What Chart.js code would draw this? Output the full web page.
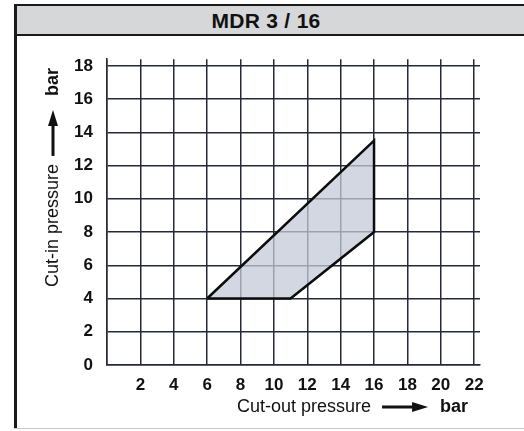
<!DOCTYPE html>
<html>
<head>
<meta charset="utf-8">
<script src="https://cdn.jsdelivr.net/npm/chart.js@4/dist/chart.umd.min.js"></script>
<style>
  html, body { margin: 0; padding: 0; background: #fff; }
  body { width: 524px; height: 431px; position: relative; overflow: hidden; font-family: "Liberation Sans", Arial, sans-serif; }
  #frameLeft { position: absolute; left: 14px; top: 4px; width: 3px; height: 424px; background: #1a1a1a; }
  #frameBottom { position: absolute; left: 14px; top: 428px; width: 510px; height: 1px; background: #c8c8c8; }
  #band { position: absolute; left: 14px; top: 4px; width: 510px; height: 28px; background: #d6d7d9;
          border-top: 2px solid #1a1a1a; border-bottom: 2px solid #1a1a1a; }
  #title { position: absolute; left: 0; width: 532px; top: 9px; text-align: center; font-weight: bold; font-size: 21px;
           line-height: 24px; color: #111; letter-spacing: 0.3px; }
  #chart { position: absolute; left: 17px; top: 35px; }
</style>
</head>
<body>
<div id="band"></div>
<div id="frameLeft"></div>
<div id="frameBottom"></div>
<div id="title">MDR 3 / 16</div>
<canvas id="chart" width="507" height="393"></canvas>
<script>
// axis ticks (bar)
const xTickValues = [0, 2, 4, 6, 8, 10, 12, 14, 16, 18, 20, 22];
const yTickValues = [0, 2, 4, 6, 8, 10, 12, 14, 16, 18];

// operating range polygon: cut-out (x) vs cut-in (y), closed
const regionCutOut = [6, 11, 16, 16, 6];
const regionCutIn = [4, 4, 8, 13.5, 4];

const xTitle = 'Cut-out pressure';
const yTitle = 'Cut-in pressure';
const unitLabel = 'bar';

const gridColor = '#262a38';
const labelFont = { family: '"Liberation Sans", Arial, sans-serif', size: 17, weight: 'bold' };

// draws "text ---> bar" style axis titles with a filled arrow
function drawArrow(ctx, x0, x1, y) {
    ctx.beginPath();
    ctx.moveTo(x0, y);
    ctx.lineTo(x1 - 12, y);
    ctx.lineWidth = 3;
    ctx.stroke();
    ctx.beginPath();
    ctx.moveTo(x1, y);
    ctx.lineTo(x1 - 16, y - 5);
    ctx.lineTo(x1 - 16, y + 5);
    ctx.closePath();
    ctx.fill();
}

const axisTitles = {
    id: 'axisTitles',
    afterDraw(chart) {
        const ctx = chart.ctx;
        const area = chart.chartArea;
        ctx.save();
        ctx.fillStyle = '#111';
        ctx.strokeStyle = '#111';
        ctx.textBaseline = 'middle';
        ctx.textAlign = 'left';

        // x axis title
        let y = area.bottom + 42;
        let x = 220;
        ctx.font = '18px "Liberation Sans", Arial, sans-serif';
        ctx.fillText(xTitle, x, y);
        x += ctx.measureText(xTitle).width + 11;
        drawArrow(ctx, x, x + 46, y);
        x += 58;
        ctx.font = 'bold 18px "Liberation Sans", Arial, sans-serif';
        ctx.fillText(unitLabel, x, y);

        // y axis title (rotated)
        ctx.translate(36, 0);
        ctx.rotate(-Math.PI / 2);
        let s = -252;
        ctx.font = '18px "Liberation Sans", Arial, sans-serif';
        ctx.fillText(yTitle, s, 0);
        s += ctx.measureText(yTitle).width + 8;
        drawArrow(ctx, s, s + 46, 0);
        s += 60;
        ctx.font = 'bold 18px "Liberation Sans", Arial, sans-serif';
        ctx.fillText(unitLabel, s, 0);
        ctx.restore();
    }
};

new Chart(document.getElementById('chart'), {
    type: 'scatter',
    data: {
        datasets: [{
            data: regionCutOut.map((v, i) => ({ x: v, y: regionCutIn[i] })),
            showLine: true,
            borderColor: '#0d0d0d',
            borderWidth: 2.5,
            backgroundColor: 'rgba(196, 202, 216, 0.75)',
            fill: 'shape',
            pointRadius: 0,
            tension: 0
        }]
    },
    options: {
        responsive: false,
        animation: false,
        layout: { padding: { top: 21, right: 44, left: 0, bottom: 0 } },
        plugins: {
            legend: { display: false },
            tooltip: { enabled: false }
        },
        scales: {
            x: {
                type: 'linear',
                min: 0,
                max: 22.35,
                afterBuildTicks: (scale) => { scale.ticks = xTickValues.map(v => ({ value: v })); },
                afterFit: (scale) => { scale.height = 63; },
                grid: { color: gridColor, lineWidth: 1.5, drawTicks: false },
                border: { color: gridColor, width: 1.5 },
                ticks: {
                    color: '#111',
                    font: labelFont,
                    padding: 10,
                    maxRotation: 0,
                    autoSkip: false,
                    callback: (v) => (v === 0 ? '' : v)
                }
            },
            y: {
                type: 'linear',
                min: 0,
                max: 18.4,
                afterBuildTicks: (scale) => { scale.ticks = yTickValues.map(v => ({ value: v })); },
                afterFit: (scale) => { scale.width = 90; },
                grid: { color: gridColor, lineWidth: 1.5, drawTicks: false },
                border: { color: gridColor, width: 1.5 },
                ticks: {
                    color: '#111',
                    font: labelFont,
                    padding: 14,
                    autoSkip: false
                }
            }
        }
    },
    plugins: [axisTitles]
});
</script>
</body>
</html>
